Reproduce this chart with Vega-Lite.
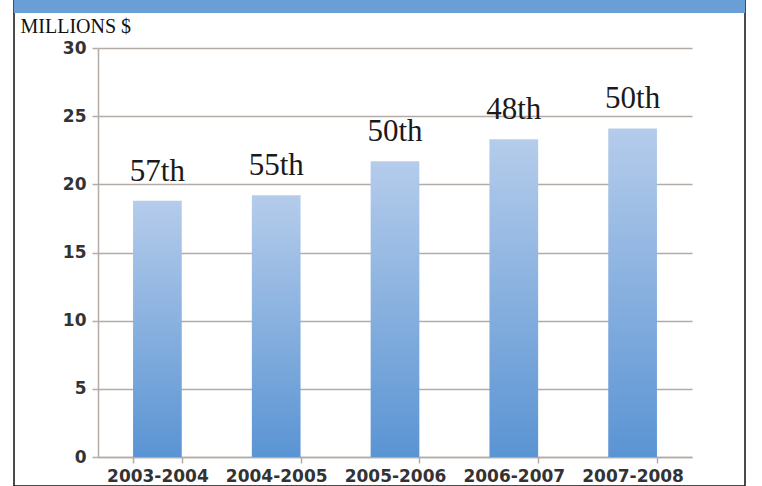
{
  "$schema": "https://vega.github.io/schema/vega-lite/v6.json",
  "width": 731,
  "height": 486,
  "autosize": {"type": "none"},
  "padding": {"left": 14, "right": 17, "top": 0, "bottom": 0},
  "background": "white",
  "config": {
    "view": {"stroke": "#111", "strokeWidth": 1.5, "fill": "white"}
  },
  "data": {
    "values": [
      {"year": "2003-2004", "amount": 18.8, "rank": "57th"},
      {"year": "2004-2005", "amount": 19.2, "rank": "55th"},
      {"year": "2005-2006", "amount": 21.7, "rank": "50th"},
      {"year": "2006-2007", "amount": 23.3, "rank": "48th"},
      {"year": "2007-2008", "amount": 24.1, "rank": "50th"}
    ]
  },
  "layer": [
    {
      "mark": {
        "type": "bar",
        "color": {
          "gradient": "linear",
          "x1": 0, "y1": 0, "x2": 0, "y2": 1,
          "stops": [
            {"offset": 0, "color": "#b5cceb"},
            {"offset": 1, "color": "#5a94d3"}
          ]
        }
      },
      "encoding": {
        "x": {
          "field": "year",
          "type": "nominal",
          "sort": null,
          "scale": {"range": [84, 678], "paddingInner": 0.59, "paddingOuter": 0.295},
          "axis": {
            "title": null,
            "offset": -29,
            "labelAngle": 0,
            "tickBand": "extent",
            "tickSize": 6,
            "tickWidth": 1.5,
            "tickColor": "#b3aca6",
            "domainColor": "#b3aca6",
            "domainWidth": 1.5,
            "labelFont": "DejaVu Sans",
            "labelFontSize": 17,
            "labelFontWeight": "bold",
            "labelColor": "#333",
            "labelPadding": 5,
            "grid": false
          }
        },
        "y": {
          "field": "amount",
          "type": "quantitative",
          "scale": {"domain": [0, 30], "range": [457, 48], "nice": false, "zero": true},
          "axis": {
            "title": "MILLIONS $",
            "titleAngle": 0,
            "titleX": -78,
            "titleY": 32,
            "titleAlign": "left",
            "titleBaseline": "alphabetic",
            "titleFont": "Liberation Serif",
            "titleFontSize": 20,
            "titleFontWeight": "normal",
            "titleColor": "#111",
            "offset": -84,
            "values": [0, 5, 10, 15, 20, 25, 30],
            "grid": true,
            "gridColor": "#b3aca6",
            "gridWidth": 1.5,
            "tickSize": 6,
            "tickWidth": 1.5,
            "tickColor": "#b3aca6",
            "domainColor": "#b3aca6",
            "domainWidth": 1.5,
            "labelFont": "DejaVu Sans",
            "labelFontSize": 17,
            "labelFontWeight": "bold",
            "labelColor": "#333",
            "labelPadding": 6
          }
        }
      }
    },
    {
      "mark": {
        "type": "text",
        "font": "Liberation Serif",
        "fontSize": 31,
        "color": "#1a1a1a",
        "baseline": "alphabetic",
        "dy": -20
      },
      "encoding": {
        "x": {"field": "year", "type": "nominal", "sort": null},
        "y": {"field": "amount", "type": "quantitative"},
        "text": {"field": "rank"}
      }
    },
    {
      "data": {"values": [{}]},
      "mark": {"type": "rule", "color": "#6a9fd5", "strokeWidth": 13},
      "encoding": {
        "y": {"datum": 33.04, "type": "quantitative"}
      }
    }
  ]
}
